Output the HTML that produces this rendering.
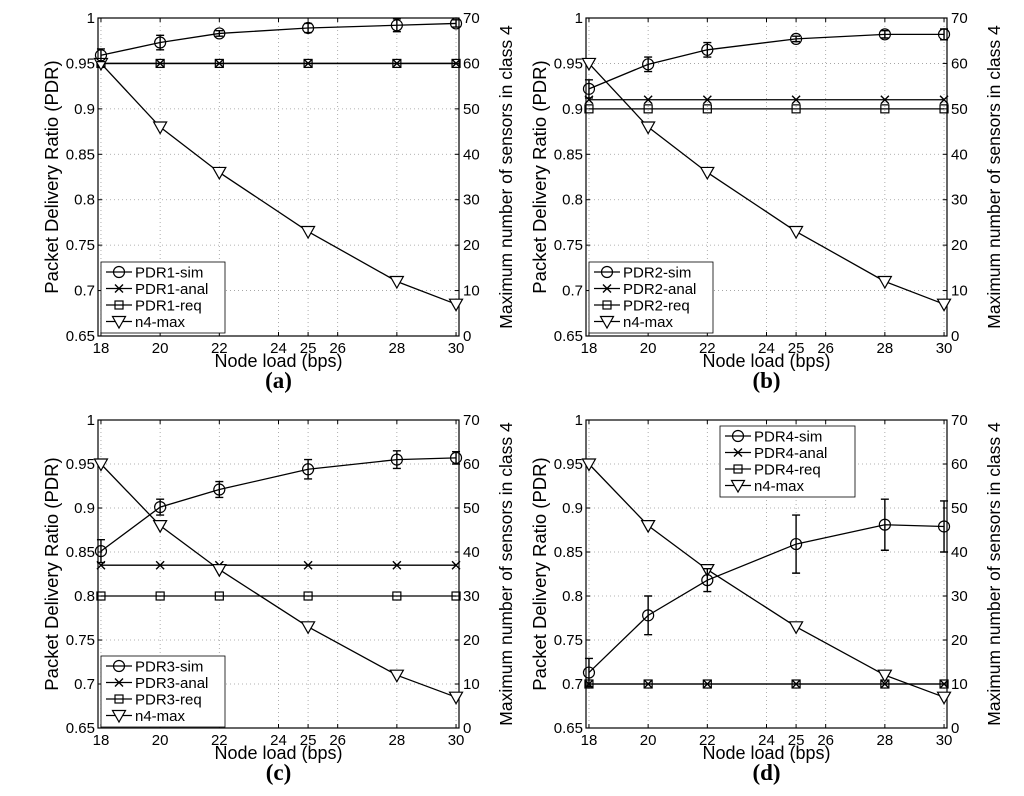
<!DOCTYPE html>
<html><head><meta charset="utf-8">
<style>
html,body{margin:0;padding:0;background:#fff;}
svg{display:block;font-family:"Liberation Sans",sans-serif;}
</style></head>
<body>
<svg id="chart" width="1024" height="796" viewBox="0 0 1024 796" xmlns="http://www.w3.org/2000/svg"></svg>
<script>
const xCategories = [18, 20, 22, 25, 28, 30];
const xTicks = [18, 20, 22, 24, 25, 26, 28, 30];
const yTicks = [0.65, 0.7, 0.75, 0.8, 0.85, 0.9, 0.95, 1];
const y2Ticks = [0, 10, 20, 30, 40, 50, 60, 70];
const n4Max = [60, 46, 36, 23, 12, 7];
const simA = [0.959, 0.973, 0.983, 0.989, 0.992, 0.994];
const errA = [0.007, 0.008, 0.003, 0.005, 0.007, 0.004];
const analA = [0.95, 0.95, 0.95, 0.95, 0.95, 0.95];
const reqA = [0.95, 0.95, 0.95, 0.95, 0.95, 0.95];
const simB = [0.922, 0.949, 0.965, 0.977, 0.982, 0.982];
const errB = [0.010, 0.008, 0.008, 0.003, 0.004, 0.006];
const analB = [0.91, 0.91, 0.91, 0.91, 0.91, 0.91];
const reqB = [0.90, 0.90, 0.90, 0.90, 0.90, 0.90];
const simC = [0.851, 0.901, 0.921, 0.944, 0.955, 0.957];
const errC = [0.013, 0.009, 0.009, 0.011, 0.010, 0.007];
const analC = [0.835, 0.835, 0.835, 0.835, 0.835, 0.835];
const reqC = [0.80, 0.80, 0.80, 0.80, 0.80, 0.80];
const simD = [0.713, 0.778, 0.818, 0.859, 0.881, 0.879];
const errD = [0.016, 0.022, 0.013, 0.033, 0.029, 0.029];
const analD = [0.70, 0.70, 0.70, 0.70, 0.70, 0.70];
const reqD = [0.70, 0.70, 0.70, 0.70, 0.70, 0.70];

const NS = "http://www.w3.org/2000/svg";
const svg = document.getElementById('chart');
function mk(tag, attrs, parent, text) {
  const e = document.createElementNS(NS, tag);
  for (const k in attrs) e.setAttribute(k, attrs[k]);
  if (text !== undefined) e.textContent = text;
  (parent || svg).appendChild(e);
  return e;
}
function fmt(v){ return v===1?'1':String(+v.toFixed(2)); }

const panels = [
  {id:'a', L:98, R:459, T:18, B:336, sim:simA, err:errA, anal:analA, req:reqA, n:1, leg:{x:101,y:262}},
  {id:'b', L:586, R:947, T:18, B:336, sim:simB, err:errB, anal:analB, req:reqB, n:2, leg:{x:589,y:262}},
  {id:'c', L:98, R:459, T:420, B:728, sim:simC, err:errC, anal:analC, req:reqC, n:3, leg:{x:101,y:656}},
  {id:'d', L:586, R:947, T:420, B:728, sim:simD, err:errD, anal:analD, req:reqD, n:4, leg:{x:720,y:426}}
];

function marker(g, type, x, y) {
  if (type==='o') mk('circle',{cx:x,cy:y,r:5.5,fill:'none',stroke:'#000','stroke-width':1.2},g);
  else if (type==='x') { mk('path',{d:`M${x-4},${y-4}L${x+4},${y+4}M${x-4},${y+4}L${x+4},${y-4}`,stroke:'#000','stroke-width':1.4},g); }
  else if (type==='s') mk('rect',{x:x-4,y:y-4,width:8,height:8,fill:'none',stroke:'#000','stroke-width':1.2},g);
  else if (type==='v') mk('path',{d:`M${x-6.5},${y-5}L${x+6.5},${y-5}L${x},${y+6.5}Z`,fill:'#fff',stroke:'#000','stroke-width':1.2},g);
}

panels.forEach(p => {
  const g = mk('g', {});
  
  
  const xs = v => p.L + (v - 17.9) / (30.1 - 17.9) * (p.R - p.L);
  const ys = v => p.B - (v - 0.65) / 0.35 * (p.B - p.T);
  const y2 = v => p.B - v / 70 * (p.B - p.T);
  const grid = mk('g', {stroke:'#999','stroke-width':0.8,'stroke-dasharray':'1,3'}, g);
  
  
  xTicks.forEach(t => mk('line',{x1:xs(t),x2:xs(t),y1:p.T,y2:p.B},grid));
  yTicks.forEach(t => mk('line',{x1:p.L,x2:p.R,y1:ys(t),y2:ys(t)},grid));
  const box = mk('rect',{x:p.L,y:p.T,width:p.R-p.L,height:p.B-p.T,fill:'none',stroke:'#000','stroke-width':1.2},g);
  
  
  xTicks.forEach(t => {
    mk('line',{x1:xs(t),x2:xs(t),y1:p.B,y2:p.B-4,stroke:'#000'},g);
    mk('line',{x1:xs(t),x2:xs(t),y1:p.T,y2:p.T+4,stroke:'#000'},g);
    const tl = mk('text',{x:xs(t),y:p.B+17,'font-size':15,'text-anchor':'middle'},g,String(t));
    
    
  });
  yTicks.forEach(t => {
    mk('line',{x1:p.L,x2:p.L+4,y1:ys(t),y2:ys(t),stroke:'#000'},g);
    const tl = mk('text',{x:p.L-3,y:ys(t)+5,'font-size':15,'text-anchor':'end'},g,fmt(t));
    
    
  });
  y2Ticks.forEach(t => {
    mk('line',{x1:p.R,x2:p.R-4,y1:y2(t),y2:y2(t),stroke:'#000'},g);
    const tl = mk('text',{x:p.R+4,y:y2(t)+5,'font-size':15,'text-anchor':'start'},g,String(t));
    
    
  });
  const xl = mk('text',{x:(p.L+p.R)/2,y:p.B+31,'font-size':18,'text-anchor':'middle'},g,'Node load (bps)');
  
  
  const cap = mk('text',{x:(p.L+p.R)/2,y:p.B+52,'font-size':23,'font-weight':'bold','text-anchor':'middle','font-family':'Liberation Serif, serif'},g,'('+p.id+')');
  
  
  const cy = (p.T+p.B)/2;
  const yl = mk('text',{x:p.L-40,y:cy,'font-size':18.5,'text-anchor':'middle',transform:`rotate(-90 ${p.L-40} ${cy})`},g,'Packet Delivery Ratio (PDR)');
  
  
  const y2l = mk('text',{x:p.R+53,y:cy,'font-size':17.5,'text-anchor':'middle',transform:`rotate(-90 ${p.R+53} ${cy})`},g,'Maximum number of sensors in class 4');
  
  

  function series(vals, sc, type, name) {
    const sg = mk('g',{},g);
    
    
    const pts = vals.map((v,i)=>xs(xCategories[i])+','+sc(v)).join(' ');
    mk('polyline',{points:pts,fill:'none',stroke:'#000','stroke-width':1.3},sg);
    vals.forEach((v,i)=>marker(sg,type,xs(xCategories[i]),sc(v)));
    return sg;
  }
  series(p.req, ys, 's', 'pdr-req-series');
  series(p.anal, ys, 'x', 'pdr-anal-series');
  series(n4Max, y2, 'v', 'n4-max-series');
  const sg = series(p.sim, ys, 'o', 'pdr-sim-series');
  p.sim.forEach((v,i)=>{
    const x = xs(xCategories[i]), a = ys(v+p.err[i]), b = ys(v-p.err[i]);
    const eb = mk('path',{d:`M${x},${a}L${x},${b}M${x-4},${a}L${x+4},${a}M${x-4},${b}L${x+4},${b}`,stroke:'#000','stroke-width':1.4,fill:'none'},sg);
    
    
  });

  const lg = mk('g',{},g);
  
  
  const lx = p.leg.x, ly = p.leg.y;
  mk('rect',{x:lx,y:ly,width:p.id==='d'?135:124,height:71,fill:'#fff',stroke:'#000','stroke-width':0.8},lg);
  const labels = [['o','PDR'+p.n+'-sim'],['x','PDR'+p.n+'-anal'],['s','PDR'+p.n+'-req'],['v','n4-max']];
  labels.forEach((l,i)=>{
    const yy = ly + 10 + i*16.5;
    const le = mk('g',{},lg);
    
    
    mk('line',{x1:lx+5,x2:lx+31,y1:yy,y2:yy,stroke:'#000','stroke-width':1.2},le);
    marker(le,l[0],lx+18,yy);
    mk('text',{x:lx+34,y:yy+5.5,'font-size':15},le,l[1]);
  });
});
</script>
</body></html>
